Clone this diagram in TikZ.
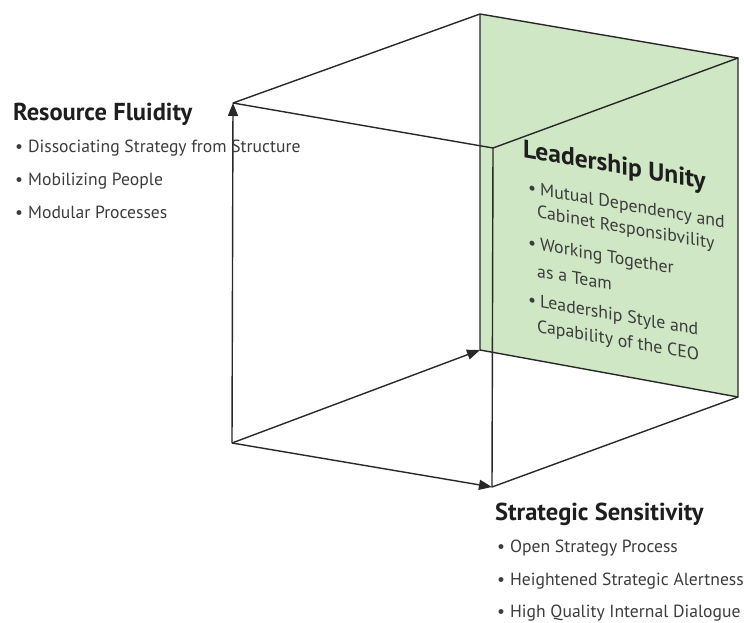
\documentclass[tikz,border=0pt]{standalone}
\usepackage{fontspec}
\setmainfont{PT Sans}
\usetikzlibrary{arrows.meta}
\definecolor{facegreen}{RGB}{207,231,196}
\definecolor{edgecol}{RGB}{40,40,40}
\definecolor{txtcol}{RGB}{60,60,60}
\definecolor{ttlcol}{RGB}{30,30,30}
\begin{document}
\begin{tikzpicture}[x=1pt,y=-1pt,
  edgeline/.style={draw=edgecol, line width=1.4pt},
  axisline/.style={edgeline, -{Triangle[length=13pt,width=10pt]}},
  ttltext/.style={anchor=base west, inner sep=0pt, text=ttlcol, font=\fontsize{24.5}{28}\selectfont\bfseries},
  facettl/.style={anchor=base west, inner sep=0pt, text=ttlcol, font=\fontsize{25.5}{29}\selectfont\bfseries},
  bultext/.style={anchor=base west, inner sep=0pt, text=txtcol, font=\fontsize{17.6}{20}\selectfont},
  facetext/.style={anchor=base west, inner sep=0pt, text=txtcol, font=\fontsize{17.8}{20}\selectfont},
]
\useasboundingbox (0,0) rectangle (744,623);
\coordinate (A) at (233,103);
\coordinate (B) at (480,14);
\coordinate (C) at (738,58);
\coordinate (D) at (493,148);
\coordinate (E) at (232,443);
\coordinate (F) at (492,487);
\coordinate (G) at (738,397);
\coordinate (H) at (480,350);
\fill[facegreen] (B) -- (C) -- (G) -- (H) -- cycle;
\draw[edgeline, line join=round] (A) -- (B) -- (C) -- (D) -- cycle;
\draw[edgeline, line join=round] (B) -- (H) -- (G) -- (C);
\draw[edgeline, line join=round] (D) -- (F) -- (G);
\draw[axisline] (E) -- (A);
\draw[axisline] (E) -- (H);
\draw[axisline] (E) -- (F);

\node[ttltext] (rf) at (13,121) {Resource Fluidity};
\node[bultext] (rf1) at (15,152.5) {•\hspace{5pt}Dissociating Strategy from Structure};
\node[bultext] (rf2) at (15,185) {•\hspace{5pt}Mobilizing People};
\node[bultext] (rf3) at (15,218) {•\hspace{5pt}Modular Processes};

\node[ttltext] (ss) at (495,520) {Strategic Sensitivity};
\node[bultext] (ss1) at (497,552) {•\hspace{5pt}Open Strategy Process};
\node[bultext] (ss2) at (497,585) {•\hspace{5pt}Heightened Strategic Alertness};
\node[bultext] (ss3) at (497,617) {•\hspace{5pt}High Quality Internal Dialogue};

\begin{scope}[shift={(523,157)}, yslant=-0.176, transform shape]
\node[facettl] (lu) at (0,0) {Leadership Unity};
\node[facetext] (lu1) at (5,35.5) {•\hspace{4pt}Mutual Dependency and};
\node[facetext] (lu1b) at (14,58.5) {Cabinet Responsibvility};
\node[facetext] (lu2) at (5,90.5) {•\hspace{4pt}Working Together};
\node[facetext] (lu2b) at (14,117.5) {as a Team};
\node[facetext] (lu3) at (5,147.5) {•\hspace{4pt}Leadership Style and};
\node[facetext] (lu3b) at (14,172.5) {Capability of the CEO};
\end{scope}
\end{tikzpicture}
\end{document}
